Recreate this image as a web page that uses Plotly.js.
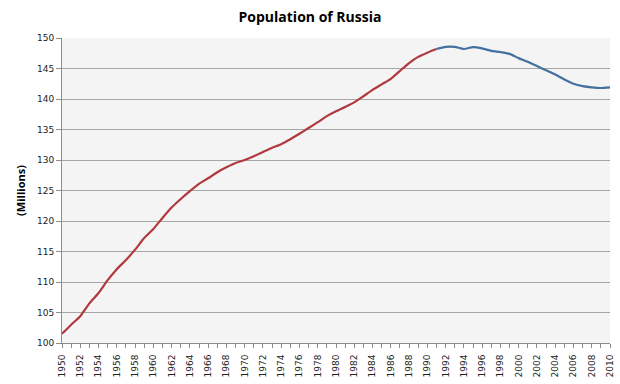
<!DOCTYPE html>
<html><head><meta charset="utf-8">
<script src="https://cdn.plot.ly/plotly-3.0.1.min.js"></script>
<style>html,body{margin:0;padding:0;background:#fff}#chart{width:620px;height:384px}</style>
</head><body><div id="chart"></div>
<script>
const yearsSoviet = [1950,1951,1952,1953,1954,1955,1956,1957,1958,1959,1960,1961,1962,1963,1964,1965,1966,1967,1968,1969,1970,1971,1972,1973,1974,1975,1976,1977,1978,1979,1980,1981,1982,1983,1984,1985,1986,1987,1988,1989,1990,1991];
const popSoviet = [101.5,103.0,104.4,106.5,108.2,110.3,112.1,113.6,115.3,117.2,118.7,120.5,122.2,123.6,124.9,126.1,127.0,128.0,128.8,129.5,130.0,130.6,131.3,132.0,132.6,133.4,134.3,135.25,136.2,137.2,138.0,138.7,139.45,140.45,141.5,142.4,143.3,144.6,145.9,146.9,147.6,148.2];
const yearsFederation = [1991,1992,1993,1994,1995,1996,1997,1998,1999,2000,2001,2002,2003,2004,2005,2006,2007,2008,2009,2010];
const popFederation = [148.2,148.55,148.55,148.2,148.5,148.3,147.9,147.7,147.4,146.7,146.1,145.4,144.7,144.0,143.2,142.5,142.1,141.9,141.8,141.9];
const titleText = "Population of Russia";
const yTitle = "(Millions)";

const traces = [
  {x: yearsSoviet, y: popSoviet, type: 'scatter', mode: 'lines', line: {color: '#b0393e', width: 2.2, shape: 'spline', smoothing: 0.6}, showlegend: false, hoverinfo: 'skip'},
  {x: yearsFederation, y: popFederation, type: 'scatter', mode: 'lines', line: {color: '#43709f', width: 2.2, shape: 'spline', smoothing: 0.6}, showlegend: false, hoverinfo: 'skip'}
];
const layout = {
  width: 620, height: 384,
  margin: {l: 62, r: 10, t: 38, b: 41},
  paper_bgcolor: '#ffffff',
  plot_bgcolor: '#f4f4f4',
  title: {text: '<b>' + titleText + '</b>', x: 0.5, xanchor: 'center', y: 0.955, yanchor: 'middle', font: {family: 'Open Sans, sans-serif', size: 14, color: '#000'}},
  xaxis: {
    range: [1950, 2010], tickmode: 'linear', tick0: 1950, dtick: 2,
    tickangle: -90, ticks: 'outside', ticklen: 4, tickcolor: '#8c8c8c', ticklabelstandoff: 3,
    minor: {dtick: 1, tick0: 1950, ticks: 'outside', ticklen: 4, tickcolor: '#8c8c8c', showgrid: false},
    showgrid: false, showline: true, linecolor: '#8c8c8c', linewidth: 1,
    zeroline: false, fixedrange: true,
    tickfont: {family: 'DejaVu Sans, sans-serif', size: 9, color: '#222'}
  },
  yaxis: {
    range: [100, 150], tickmode: 'linear', tick0: 100, dtick: 5,
    ticks: 'outside', ticklen: 5, tickcolor: '#8c8c8c',
    showgrid: true, gridcolor: '#a6a6a6', gridwidth: 1,
    showline: true, linecolor: '#8c8c8c', linewidth: 1, zeroline: false, fixedrange: true,
    tickfont: {family: 'DejaVu Sans, sans-serif', size: 9, color: '#222'},
    title: {text: '<b>' + yTitle + '</b>', standoff: 9, font: {family: 'Open Sans, sans-serif', size: 11, color: '#000'}}
  }
};
Plotly.newPlot('chart', traces, layout, {staticPlot: true, displayModeBar: false});
</script></body></html>
